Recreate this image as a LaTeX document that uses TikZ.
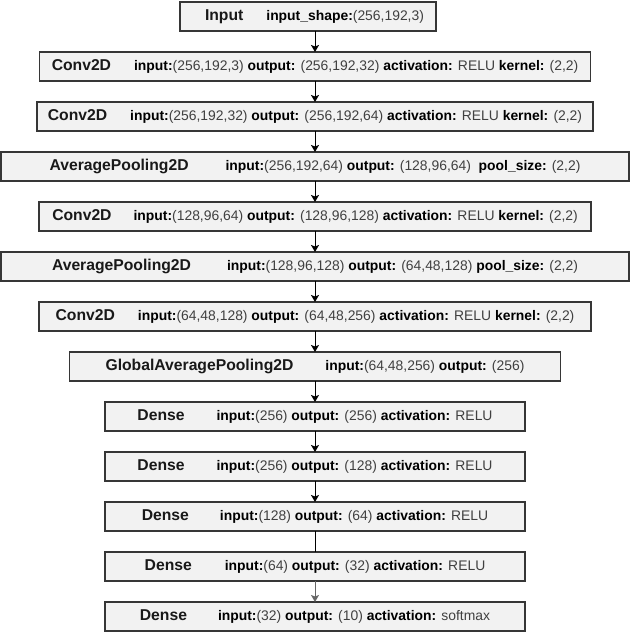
\documentclass[tikz,border=0pt]{standalone}
\usepackage{fontspec}
\setmainfont{Liberation Sans}
\usetikzlibrary{arrows.meta,positioning}
\definecolor{boxfill}{HTML}{F2F2F2}
\definecolor{boxline}{HTML}{363636}
\definecolor{valgray}{HTML}{404040}
\newcommand{\kw}[1]{\textbf{\color{black}#1}}
\newcommand{\lname}[1]{{\fontsize{15.7pt}{18pt}\selectfont\bfseries\color{black!90}#1}}
\tikzstyle{layer}=[rectangle, draw=boxline, line width=1.5pt, fill=boxfill,
		text=valgray, minimum height=29pt, inner sep=0pt, outer sep=0pt,
		font=\fontsize{13.9pt}{16pt}\selectfont]

\begin{document}
\begin{tikzpicture}[line width=1pt,
		>={Stealth[length=7pt,width=8pt,inset=1.5pt]}]
    \useasboundingbox (0,0) rectangle (631pt,-632pt);

    \node (Input) at (308pt,-16.5pt) [layer, minimum width=256pt]{%
      \hspace*{13pt}\lname{Input}\hspace{23pt}%
      \kw{input\_shape:}(256,192,3)};

    \node (Conv1) [layer, minimum width=551pt, below=21pt of Input, xshift=7pt]{%
      \lname{Conv2D}\hspace{23pt}%
      \kw{input:}(256,192,3) \kw{output:} (256,192,32)
      \kw{activation:} RELU \kw{kernel:} (2,2)}
    edge [<-] (Conv1.north |- Input.south);

    \node (Conv2) [layer, minimum width=556pt, below=21pt of Conv1]{%
      \lname{Conv2D}\hspace{23pt}%
      \kw{input:}(256,192,32) \kw{output:} (256,192,64)
      \kw{activation:} RELU \kw{kernel:} (2,2)}
    edge [<-] (Conv1);

    \node (Pool1) [layer, minimum width=628pt, below=21pt of Conv2]{%
      \lname{AveragePooling2D}\hspace{37pt}%
      \kw{input:}(256,192,64) \kw{output:} (128,96,64)\ \ \kw{pool\_size:} (2,2)}
    edge [<-] (Conv2);

    \node (Conv3) [layer, minimum width=552pt, below=21pt of Pool1]{%
      \lname{Conv2D}\hspace{22pt}%
      \kw{input:}(128,96,64) \kw{output:} (128,96,128)
      \kw{activation:} RELU \kw{kernel:} (2,2)}
    edge [<-] (Pool1);

    \node (Pool2) [layer, minimum width=628pt, below=21pt of Conv3]{%
      \lname{AveragePooling2D}\hspace{36pt}%
      \kw{input:}(128,96,128) \kw{output:} (64,48,128) \kw{pool\_size:} (2,2)}
    edge [<-] (Conv3);

    \node (Conv4) [layer, minimum width=552pt, below=21pt of Pool2]{%
      \lname{Conv2D}\hspace{23pt}%
      \kw{input:}(64,48,128) \kw{output:} (64,48,256)
      \kw{activation:} RELU \kw{kernel:} (2,2)}
    edge [<-] (Pool2);

    \node (GlobalPool) [layer, minimum width=491pt, below=21pt of Conv4]{%
      \lname{GlobalAveragePooling2D}\hspace{32pt}%
      \kw{input:}(64,48,256) \kw{output:} (256)}
    edge [<-] (Conv4);

    \node (Dense1) [layer, minimum width=420pt, below=21pt of GlobalPool]{%
      \lname{Dense}\hspace{32pt}%
      \kw{input:}(256) \kw{output:} (256) \kw{activation:} RELU}
    edge [<-] (GlobalPool);

    \node (Dense2) [layer, minimum width=420pt, below=21pt of Dense1]{%
      \lname{Dense}\hspace{32pt}%
      \kw{input:}(256) \kw{output:} (128) \kw{activation:} RELU}
    edge [<-] (Dense1);

    \node (Dense3) [layer, minimum width=420pt, below=21pt of Dense2]{%
      \lname{Dense}\hspace{31pt}%
      \kw{input:}(128) \kw{output:} (64) \kw{activation:} RELU}
    edge [<-] (Dense2);

    % no arrow head on this one
    \node (Dense4) [layer, minimum width=420pt, below=21pt of Dense3]{%
      \lname{Dense}\hspace{33pt}%
      \kw{input:}(64) \kw{output:} (32) \kw{activation:} RELU}
    edge [-] (Dense3);

    \node (Dense5) [layer, minimum width=420pt, below=21pt of Dense4]{%
      \lname{Dense}\hspace{31pt}%
      \kw{input:}(32) \kw{output:} (10) \kw{activation:} softmax}
    edge [<-, draw=black!60] (Dense4);

\end{tikzpicture}
\end{document}
